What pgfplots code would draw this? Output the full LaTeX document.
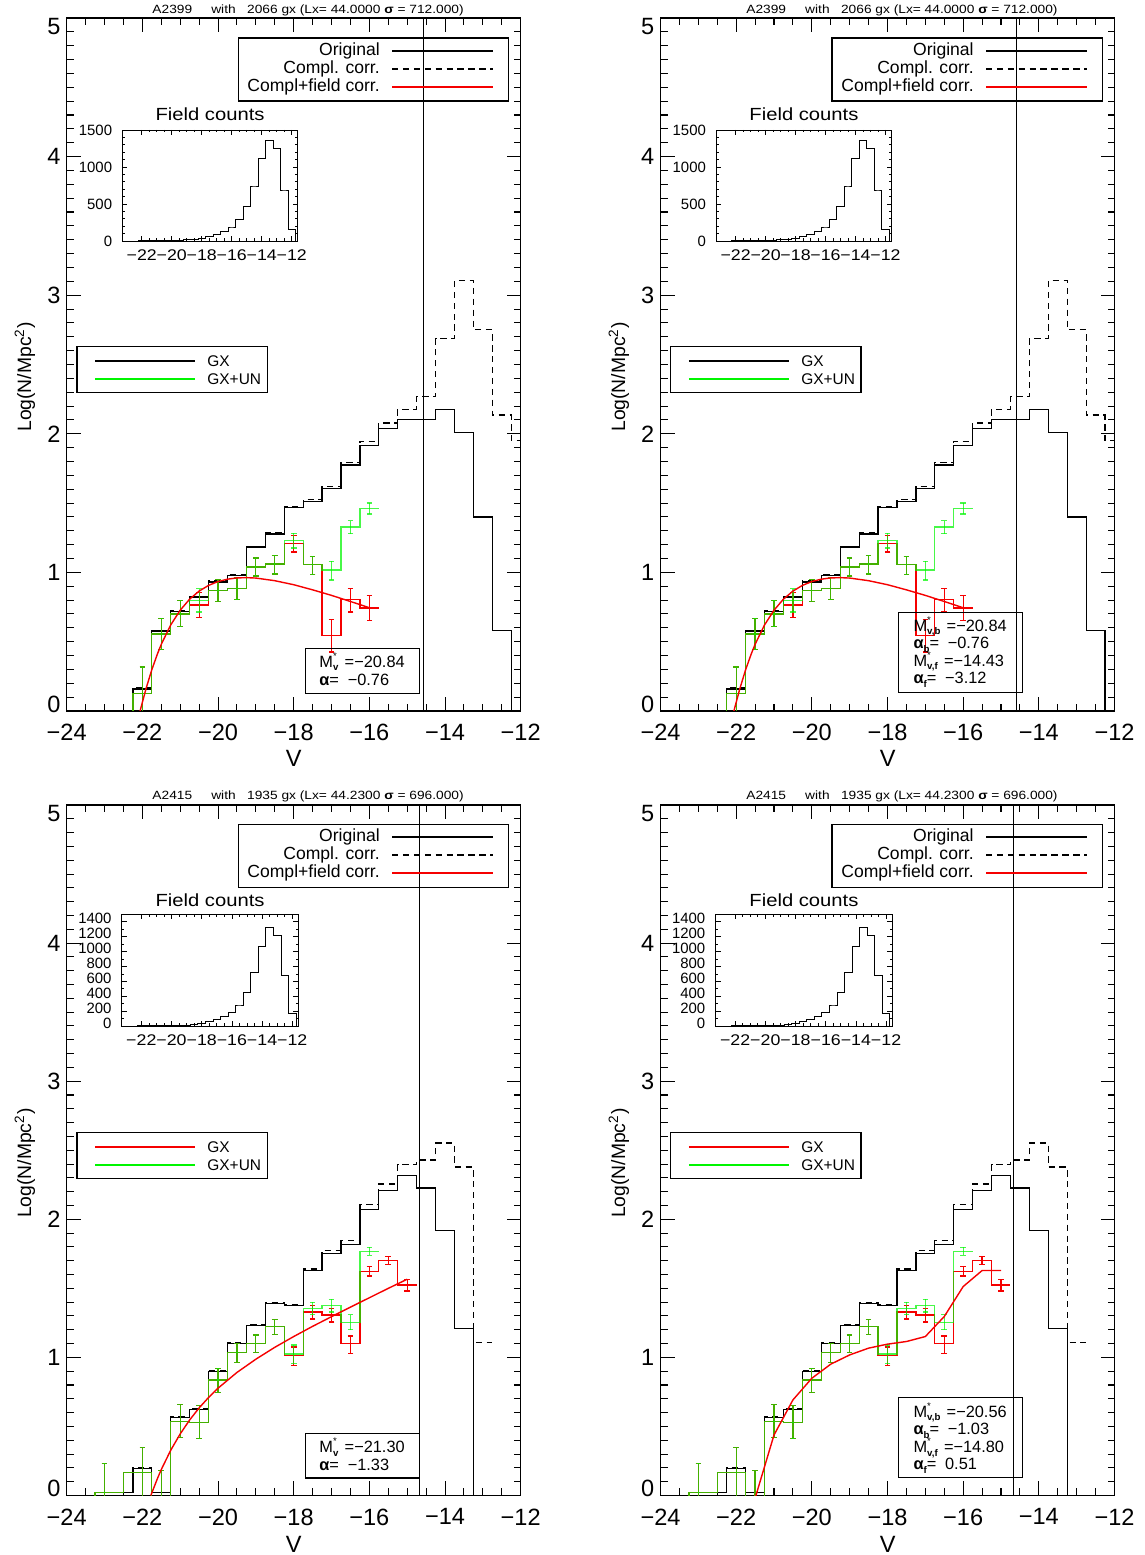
\documentclass[border=0pt]{standalone}
\usepackage{fontspec}
\setmainfont{Liberation Sans}
\newfontfamily\idl[FakeStretch=1.15]{Liberation Sans}
\usepackage{pgfplots}
\usepackage{pgfplotstable}
\pgfplotsset{compat=1.18}

\definecolor{grn}{RGB}{0,245,0}
\definecolor{rd}{RGB}{245,0,0}
\newcommand\fs[1]{\fontsize{#1}{#1}\selectfont}
\newcommand\Ms[1]{M\rlap{\raisebox{0.5em}[0pt][0pt]{\fs{5.5}*}}\raisebox{-0.22em}[0pt][0pt]{\fs{5.5}\textbf{#1}}}
\newcommand\Al[1]{\textbf{α}\raisebox{-0.22em}[0pt][0pt]{\fs{5.5}\textbf{#1}}}

% ---------------- A2399 ----------------
\pgfplotstableread{
x y
-22.5 -1
-22 0.159
-21.5 0.577
-21 0.717
-20.5 0.822
-20 0.931
-19.5 0.976
-19 1.183
-18.5 1.277
-18 1.469
-17.5 1.510
-17 1.603
-16.5 1.774
-16 1.918
-15.5 2.038
-15 2.103
-14.5 2.103
-14 2.175
-13.5 2.010
-13 1.400
-12.5 0.582
-12 -1
}\aorig
\pgfplotstableread{
x y
-22.5 -1
-22 0.165
-21.5 0.582
-21 0.722
-20.5 0.828
-20 0.940
-19.5 0.985
-19 1.188
-18.5 1.285
-18 1.478
-17.5 1.524
-17 1.620
-16.5 1.793
-16 1.947
-15.5 2.078
-15 2.177
-14.5 2.267
-14 2.687
-13.5 3.105
-13 2.750
-12.5 2.135
-12 1.950
-11.5 1.950
}\acompl
% GX+UN counts with their error bars
\pgfplotstableread{
x y ep em
-22.5 -1 0 0
-22 0.125 0.193 0.300
-21.5 0.556 0.112 0.113
-21 0.700 0.098 0.092
-20.5 0.798 0.084 0.084
-20 0.870 0.077 0.079
-19.5 0.882 0.080 0.079
-19 1.039 0.065 0.065
-18.5 1.060 0.063 0.072
-18 1.231 0.050 0.055
-17.5 1.055 0.060 0.072
-17 1.017 0.062 0.072
-16.5 1.327 0.046 0.048
-16 1.462 0.038 0.041
}\agxun
% GX counts with their error bars
\pgfplotstableread{
x y ep em
-22.5 -1 0 0
-22 0.125 0.193 0.300
-21.5 0.556 0.112 0.113
-21 0.700 0.098 0.092
-20.5 0.765 0.090 0.090
-20 0.870 0.077 0.079
-19.5 0.882 0.080 0.079
-19 1.039 0.065 0.065
-18.5 1.060 0.063 0.072
-18 1.207 0.060 0.060
-17.5 1.055 0.060 0.072
-17 0.544 0.115 0.118
-16.5 0.803 0.079 0.089
-16 0.743 0.091 0.089
}\agx
\pgfplotstableread{
x y
-16 1.462
-15.75 1.462
}\agxunend
\pgfplotstableread{
x y
-16 0.743
-15.75 0.743
}\agxend
\pgfplotstableread{
x y
-22.06 0
-22 0.062
-21.9 0.164
-21.75 0.298
-21.6 0.413
-21.5 0.481
-21.25 0.621
-21 0.727
-20.75 0.807
-20.5 0.865
-20.25 0.906
-20 0.934
-19.75 0.951
-19.5 0.960
-19.25 0.962
-19 0.959
-18.5 0.940
-18 0.911
-17.5 0.874
-17 0.834
-16.5 0.790
-16 0.745
}\afit
\pgfplotstableread{
x y
-23.5 0
-23 0
-22.5 0
-22 1
-21.5 1
-21 2
-20.5 3
-20 5
-19.5 10
-19 15
-18.5 23
-18 36
-17.5 59
-17 95
-16.5 135
-16 189
-15.5 293
-15 473
-14.5 743
-14 1117
-13.5 1365
-13 1252
-12.5 689
-12 162
-11.5 0
}\afield

% ---------------- A2415 ----------------
\pgfplotstableread{
x y
-23.5 -1
-23 0.02
-22.5 0.02
-22 0.197
-21.5 0.02
-21 0.567
-20.5 0.625
-20 0.897
-19.5 1.103
-19 1.231
-18.5 1.390
-18 1.375
-17.5 1.629
-17 1.755
-16.5 1.820
-16 2.069
-15.5 2.209
-15 2.315
-14.5 2.226
-14 1.919
-13.5 1.211
-13 -1
}\borig
\pgfplotstableread{
x y
-23.5 -1
-23 0.02
-22.5 0.02
-22 0.200
-21.5 0.02
-21 0.572
-20.5 0.630
-20 0.902
-19.5 1.108
-19 1.236
-18.5 1.395
-18 1.382
-17.5 1.640
-17 1.774
-16.5 1.844
-16 2.105
-15.5 2.255
-15 2.395
-14.5 2.429
-14 2.552
-13.5 2.378
-13 1.110
-12.75 1.110
}\bcompl
\pgfplotstableread{
x y ep em
-23.5 -1 0 0
-23 0.02 0.213 0.300
-22 0.168 0.178 0.300
-21.5 -0.1 0.280 0.100
-21 0.535 0.123 0.113
-20.5 0.528 0.121 0.118
-20 0.837 0.085 0.089
-19.5 1.035 0.063 0.070
-19 1.103 0.060 0.065
-18.5 1.223 0.051 0.055
-18 1.025 0.065 0.067
-17.5 1.356 0.044 0.048
-17 1.375 0.047 0.047
-16.5 1.254 0.054 0.054
-16 1.767 0.029 0.029
}\bgxun
\pgfplotstableread{
x y ep em
-23.5 -1 0 0
-23 0.02 0.213 0.300
-22 0.168 0.178 0.300
-21.5 -0.1 0.280 0.100
-21 0.535 0.123 0.113
-20.5 0.528 0.121 0.118
-20 0.837 0.085 0.089
-19.5 1.035 0.063 0.070
-19 1.103 0.060 0.065
-18.5 1.223 0.051 0.055
-18 1.011 0.065 0.070
-17.5 1.328 0.045 0.050
-17 1.307 0.048 0.050
-16.5 1.098 0.057 0.069
-16 1.622 0.036 0.032
-15.5 1.701 0.029 0.029
-15 1.525 0.040 0.045
}\bgx
\pgfplotstableread{
x y
-16 1.767
-15.75 1.767
}\bgxunend
\pgfplotstableread{
x y
-15 1.525
-14.75 1.525
}\bgxend
\pgfplotstableread{
x y
-21.775 0
-21.75 0.019
-21.6 0.124
-21.5 0.188
-21.25 0.328
-21 0.446
-20.75 0.547
-20.5 0.634
-20.25 0.710
-20 0.777
-19.5 0.891
-19 0.987
-18.5 1.073
-18 1.151
-17.5 1.225
-17 1.295
-16.5 1.364
-16 1.432
-15.5 1.500
-15 1.566
}\bfit
\pgfplotstableread{
x y
-21.5 -0.02
-21 0.438
-20.5 0.692
-20 0.849
-19.5 0.951
-19 1.018
-18.5 1.067
-18 1.096
-17.5 1.115
-17 1.151
-16.5 1.296
-16 1.513
-15.5 1.629
-15 1.629
}\bfittwo
\pgfplotstableread{
x y
-23.5 0
-23 0
-22.5 0
-22 1
-21.5 1
-21 2
-20.5 3
-20 5
-19.5 9
-19 14
-18.5 22
-18 36
-17.5 58
-17 89
-16.5 125
-16 183
-15.5 282
-15 448
-14.5 720
-14 1065
-13.5 1325
-13 1221
-12.5 675
-12 170
-11.5 0
}\bfield

\pgfplotsset{
  mainax/.style={anchor=south west, scale only axis, width=9.08cm,
    xmin=-24, xmax=-12, ymin=0, ymax=5,
    xtick={-24,-22,...,-12}, xticklabels={−24,−22,−20,−18,−16,−14,−12},
    ytick={0,1,2,3,4,5},
    yticklabels={\raisebox{0.14cm}[\height][\depth]{0},1,2,3,4,\raisebox{-0.17cm}[\height][\depth]{5}},
    minor x tick num=3, minor y tick num=9,
    tick align=inside, major tick length=0.28cm, minor tick length=0.14cm,
    axis line style={line width=0.7pt},
    every tick/.append style={line width=0.6pt, black},
    ticklabel style={font=\fs{13.4}},
    xticklabel style={yshift=-0.14cm}},
  insetax/.style={anchor=south west, scale only axis,
    xmin=-23.3, xmax=-11.6, ymin=0, ymax=1500,
    xtick={-22,-20,...,-12}, xticklabels={−22,−20,−18,−16,−14,−12},
    minor x tick num=3,
    tick align=inside, major tick length=0.1cm, minor tick length=0.05cm,
    axis line style={line width=0.5pt},
    every tick/.append style={line width=0.4pt, black},
    ticklabel style={font=\fs{8.5}},
    xticklabel style={font=\idl\fs{8.8}, yshift=-0.05cm},
    yticklabel style={xshift=-0.08cm}},
  hist/.style={black, const plot mark mid, line width=0.7pt},
  dhist/.style={black, const plot mark mid, line width=0.7pt, dash pattern=on 3.6pt off 2.6pt},
  rhist/.style={rd, const plot mark mid, line width=0.7pt,
    error bars/.cd, y dir=both, y explicit, error mark=-,
    error bar style={rd, line width=0.7pt, solid},
    error mark options={rotate=90, rd, mark size=1.6pt, line width=0.7pt, solid}},
  ghist/.style={grn, const plot mark mid, line width=0.7pt, opacity=0.72,
    error bars/.cd, y dir=both, y explicit, error mark=-,
    error bar style={grn, line width=0.7pt, opacity=0.72, solid},
    error mark options={rotate=90, grn, mark size=1.6pt, line width=0.7pt, opacity=0.72, solid}},
  rend/.style={rd, line width=0.7pt},
  gend/.style={grn, line width=0.7pt, opacity=0.72},
  fit/.style={rd, line width=0.8pt},
}

% annotations shared by every panel: title, legends, inset title, axis labels
\newcommand\panelanno[4]{%
  \begin{scope}[shift={(#1,#2)}]
    \node[font=\idl\fs{6.8}] at (308,10) {#3};
    \draw[line width=0.6pt] (238,38) rectangle (508,101);
    \node[anchor=east, font=\fs{10}] at (380,51) {Original};
    \node[anchor=east, font=\fs{10}] at (380,69) {Compl. corr.};
    \node[anchor=east, font=\fs{10}] at (380,87) {Compl+field corr.};
    \draw[black, line width=0.8pt] (392,51) -- (493,51);
    \draw[black, line width=0.8pt, dash pattern=on 3.6pt off 2.6pt] (392,69) -- (493,69);
    \draw[rd, line width=0.9pt] (392,87) -- (493,87);
    \node[font=\idl\fs{10}] at (210,114) {Field counts};
    \draw[line width=0.6pt] (77,346) rectangle (267,392);
    \draw[#4, line width=0.9pt] (95,361) -- (195,361);
    \draw[grn, line width=0.9pt] (95,379) -- (195,379);
    \node[anchor=west, font=\fs{8.8}] at (207,361) {GX};
    \node[anchor=west, font=\fs{8.8}] at (207,379) {GX+UN};
    \node[rotate=90, font=\fs{11}] at (25,377) {Log(N/Mpc\textsuperscript{2})};
    \node[font=\fs{13.4}] at (293.7,758) {V};
  \end{scope}}

\begin{document}
\begin{tikzpicture}
\useasboundingbox (0,0) rectangle (22.88cm,31.1cm);

% ---- top left ----
\begin{axis}[mainax, at={(1.334cm,16.88cm)}, height=13.86cm]
  \addplot[dhist] table {\acompl};
  \addplot[hist] table {\aorig};
  \addplot[rhist] table[x=x, y=y, y error plus=ep, y error minus=em] {\agx};
  \addplot[rend] table {\agxend};
  \addplot[ghist] table[x=x, y=y, y error plus=ep, y error minus=em] {\agxun};
  \addplot[gend] table {\agxunend};
  \addplot[fit] table {\afit};
  \addplot[black, line width=0.6pt] coordinates {(-14.58,0) (-14.58,5)};
\end{axis}
\begin{axis}[insetax, at={(2.446cm,26.28cm)}, width=3.508cm, height=2.22cm,
    ytick={0,500,1000,1500}, yticklabels={0,500,1000,1500}, minor y tick num=4]
  \addplot[black, const plot mark mid, line width=0.5pt] table {\afield};
\end{axis}

% ---- top right ----
\begin{axis}[mainax, at={(13.21cm,16.88cm)}, height=13.86cm]
  \addplot[dhist] table {\acompl};
  \addplot[hist] table {\aorig};
  \addplot[rhist] table[x=x, y=y, y error plus=ep, y error minus=em] {\agx};
  \addplot[rend] table {\agxend};
  \addplot[ghist] table[x=x, y=y, y error plus=ep, y error minus=em] {\agxun};
  \addplot[gend] table {\agxunend};
  \addplot[fit] table {\afit};
  \addplot[black, line width=0.6pt] coordinates {(-14.58,0) (-14.58,5)};
\end{axis}
\begin{axis}[insetax, at={(14.322cm,26.28cm)}, width=3.508cm, height=2.22cm,
    ytick={0,500,1000,1500}, yticklabels={0,500,1000,1500}, minor y tick num=4]
  \addplot[black, const plot mark mid, line width=0.5pt] table {\afield};
\end{axis}

% ---- bottom left ----
\begin{axis}[mainax, at={(1.334cm,1.19cm)}, height=13.81cm]
  \addplot[dhist] table {\bcompl};
  \addplot[hist] table {\borig};
  \addplot[rhist] table[x=x, y=y, y error plus=ep, y error minus=em] {\bgx};
  \addplot[rend] table {\bgxend};
  \addplot[ghist] table[x=x, y=y, y error plus=ep, y error minus=em] {\bgxun};
  \addplot[gend] table {\bgxunend};
  \addplot[fit] table {\bfit};
  \addplot[black, line width=0.6pt] coordinates {(-14.68,0) (-14.68,5)};
\end{axis}
\begin{axis}[insetax, at={(2.434cm,10.58cm)}, width=3.532cm, height=2.234cm,
    ytick={0,200,...,1400}, yticklabels={0,200,400,600,800,1000,1200,1400}, minor y tick num=1,
    yticklabel style={yshift=0.06cm}]
  \addplot[black, const plot mark mid, line width=0.5pt] table {\bfield};
\end{axis}

% ---- bottom right ----
\begin{axis}[mainax, at={(13.21cm,1.19cm)}, height=13.81cm]
  \addplot[dhist] table {\bcompl};
  \addplot[hist] table {\borig};
  \addplot[rhist] table[x=x, y=y, y error plus=ep, y error minus=em] {\bgx};
  \addplot[rend] table {\bgxend};
  \addplot[ghist] table[x=x, y=y, y error plus=ep, y error minus=em] {\bgxun};
  \addplot[gend] table {\bgxunend};
  \addplot[fit] table {\bfittwo};
  \addplot[black, line width=0.6pt] coordinates {(-14.68,0) (-14.68,5)};
\end{axis}
\begin{axis}[insetax, at={(14.31cm,10.58cm)}, width=3.532cm, height=2.234cm,
    ytick={0,200,...,1400}, yticklabels={0,200,400,600,800,1000,1200,1400}, minor y tick num=1,
    yticklabel style={yshift=0.06cm}]
  \addplot[black, const plot mark mid, line width=0.5pt] table {\bfield};
\end{axis}

% ---- labels, legends and fit parameters (pixel grid, origin top left) ----
\begin{scope}[shift={(0cm,31.1cm)}, x=0.02cm, y=-0.02cm, every node/.style={inner sep=0pt}]
  \panelanno{0}{0}{A2399\ \ \ \ \ with\ \ \ 2066 gx (Lx= 44.0000 \textbf{σ} = 712.000)}{black}
  \panelanno{593.8}{0}{A2399\ \ \ \ \ with\ \ \ 2066 gx (Lx= 44.0000 \textbf{σ} = 712.000)}{black}
  \panelanno{0}{786}{A2415\ \ \ \ \ with\ \ \ 1935 gx (Lx= 44.2300 \textbf{σ} = 696.000)}{rd}
  \panelanno{593.8}{786}{A2415\ \ \ \ \ with\ \ \ 1935 gx (Lx= 44.2300 \textbf{σ} = 696.000)}{rd}

  % fit parameters
  \draw[line width=0.6pt] (305,648) rectangle (419,693);
  \node[anchor=west, font=\fs{9.3}] at (319,661.5) {\Ms{v}\hspace{3.6pt}=−20.84};
  \node[anchor=west, font=\fs{9.3}] at (319,679.5) {\Al{}=\hspace{5pt}−0.76};

  \draw[line width=0.6pt] (898,612.5) rectangle (1022,692.5);
  \node[anchor=west, font=\fs{9.3}] at (913,625.5) {\Ms{v,b}\hspace{3.6pt}=−20.84};
  \node[anchor=west, font=\fs{9.3}] at (913,643) {\Al{b}=\hspace{5pt}−0.76};
  \node[anchor=west, font=\fs{9.3}] at (913,660.5) {\Ms{v,f}\hspace{3.6pt}=−14.43};
  \node[anchor=west, font=\fs{9.3}] at (913,678) {\Al{f}=\hspace{5pt}−3.12};

  \draw[line width=0.6pt] (305,1433.3) rectangle (419,1477.7);
  \node[anchor=west, font=\fs{9.3}] at (319,1446.7) {\Ms{v}\hspace{3.6pt}=−21.30};
  \node[anchor=west, font=\fs{9.3}] at (319,1464.5) {\Al{}=\hspace{5pt}−1.33};

  \draw[line width=0.6pt] (898,1397.3) rectangle (1022.7,1477.3);
  \node[anchor=west, font=\fs{9.3}] at (913,1411.5) {\Ms{v,b}\hspace{3.6pt}=−20.56};
  \node[anchor=west, font=\fs{9.3}] at (913,1429) {\Al{b}=\hspace{5pt}−1.03};
  \node[anchor=west, font=\fs{9.3}] at (913,1446.5) {\Ms{v,f}\hspace{3.6pt}=−14.80};
  \node[anchor=west, font=\fs{9.3}] at (913,1464) {\Al{f}=\hspace{5pt}0.51};
\end{scope}
\end{tikzpicture}
\end{document}
